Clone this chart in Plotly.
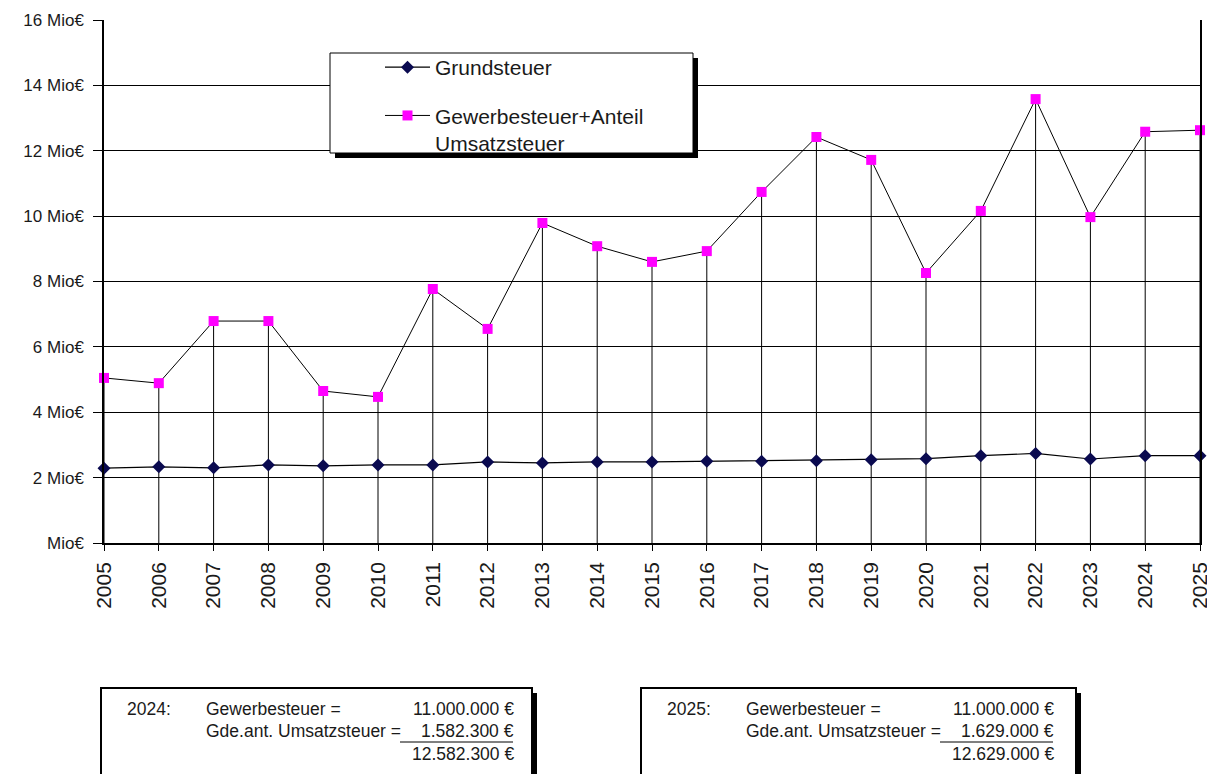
import plotly.graph_objects as go

years = list(range(2005, 2026))
grundsteuer = [2.29, 2.33, 2.30, 2.39, 2.36, 2.39, 2.39, 2.48, 2.45, 2.48, 2.48,
               2.50, 2.50, 2.52, 2.55, 2.58, 2.67, 2.74, 2.57, 2.67, 2.67]
gewerbe_ust = [5.05, 4.89, 6.79, 6.79, 4.65, 4.47, 7.77, 6.55, 9.79, 9.08, 8.60,
               8.93, 10.74, 12.42, 11.72, 8.26, 10.16, 13.58, 9.97, 12.5823, 12.629]
y_ticks = [0, 2, 4, 6, 8, 10, 12, 14, 16]
y_tick_labels = ["Mio€", "2 Mio€", "4 Mio€", "6 Mio€", "8 Mio€", "10 Mio€", "12 Mio€", "14 Mio€", "16 Mio€"]
legend_names = ["Grundsteuer", "Gewerbesteuer+Anteil<br>Umsatzsteuer"]
box_years = ["2024:", "2025:"]
box_gewerbe = ["11.000.000 €", "11.000.000 €"]
box_ust = ["1.582.300 €", "1.629.000 €"]
box_total = ["12.582.300 €", "12.629.000 €"]

# the page body has an 8px margin, so the figure starts at (8, 8) of the screenshot
OFF = 8
W, H = 1215 - OFF, 774 - OFF
L, R, T, B = 104, 1200, 20, 543   # plot-area edges in screenshot pixels
FONT = "Liberation Sans, Arial, sans-serif"
TXT = "#1a1a1a"

def px(x):
    return (x - L) / (R - L)

def py(y):
    return (B - y) / (B - T)

# drop lines from each upper point down to the axis
drop_x, drop_y = [], []
for yr, v in zip(years, gewerbe_ust):
    drop_x += [yr, yr, None]
    drop_y += [0, v, None]

fig = go.Figure()
fig.add_trace(go.Scatter(x=drop_x, y=drop_y, mode="lines",
                         line=dict(color="black", width=1),
                         showlegend=False, hoverinfo="skip"))
fig.add_trace(go.Scatter(x=years, y=grundsteuer, mode="lines+markers",
                         name=legend_names[0], legendgroup="a",
                         line=dict(color="black", width=1.2),
                         marker=dict(symbol="diamond", size=10, color="#0a0a50"),
                         cliponaxis=False))
fig.add_trace(go.Scatter(x=years, y=gewerbe_ust, mode="lines+markers",
                         name=legend_names[1], legendgroup="b",
                         line=dict(color="black", width=1),
                         marker=dict(symbol="square", size=10, color="#ff00ff"),
                         cliponaxis=False))

shapes = []
annotations = []

# legend box with shadow
lx0, ly0, lx1, ly1 = 330, 53, 693, 153
shapes.append(dict(type="rect", xref="paper", yref="paper", layer="above",
                   x0=px(lx0 + 5), x1=px(lx1 + 5), y0=py(ly0 + 5), y1=py(ly1 + 5),
                   fillcolor="black", line=dict(width=0)))
shapes.append(dict(type="rect", xref="paper", yref="paper", layer="above",
                   x0=px(lx0), x1=px(lx1), y0=py(ly0), y1=py(ly1),
                   fillcolor="white", line=dict(color="black", width=1)))

# bottom info boxes
for i, bx in enumerate([101, 641]):
    bw = 431 if i == 0 else 435
    top, bot = 688, 780
    shapes.append(dict(type="rect", xref="paper", yref="paper", layer="above",
                       x0=px(bx + 5), x1=px(bx + bw + 5), y0=py(top + 5), y1=py(bot),
                       fillcolor="black", line=dict(width=0)))
    shapes.append(dict(type="rect", xref="paper", yref="paper", layer="above",
                       x0=px(bx), x1=px(bx + bw), y0=py(top), y1=py(bot),
                       fillcolor="white", line=dict(color="black", width=2)))
    rx = bx + 415
    shapes.append(dict(type="line", xref="paper", yref="paper", layer="above",
                       x0=px(bx + 299), x1=px(rx - 3), y0=py(742), y1=py(742),
                       line=dict(color="black", width=1)))

    def ann(text, x, y, anchor):
        annotations.append(dict(text=text, xref="paper", yref="paper",
                                x=px(x), y=py(y), xanchor=anchor, yanchor="middle",
                                showarrow=False,
                                font=dict(family=FONT, size=17.5, color=TXT)))
    ann(box_years[i], bx + 24, 709, "left")
    ann("Gewerbesteuer =", bx + 103, 709, "left")
    ann(box_gewerbe[i], rx, 709, "right")
    ann("Gde.ant. Umsatzsteuer =", bx + 103, 731, "left")
    ann(box_ust[i], rx, 731, "right")
    ann(box_total[i], rx, 754, "right")

fig.update_layout(
    width=W, height=H,
    margin=dict(l=L - OFF, r=(1215 - R), t=T - OFF, b=(774 - B)),
    paper_bgcolor="white", plot_bgcolor="white",
    font=dict(family=FONT, size=16, color=TXT),
    showlegend=True,
    legend=dict(x=px(380), y=py(47), xanchor="left", yanchor="top",
                bgcolor="rgba(0,0,0,0)", borderwidth=0,
                font=dict(family=FONT, size=21, color=TXT),
                tracegroupgap=18, valign="top", itemwidth=45),
    xaxis=dict(range=[2005, 2025], tickvals=years, ticktext=[str(y) for y in years],
               tickangle=-90, ticks="outside", ticklen=6, tickcolor="black",
               ticklabelstandoff=3,
               showgrid=False, zeroline=False, showline=True, linecolor="black",
               linewidth=1.5, automargin=False,
               tickfont=dict(family=FONT, size=21, color=TXT)),
    yaxis=dict(range=[0, 16], tickvals=y_ticks, ticktext=y_tick_labels,
               ticks="outside", ticklen=9, tickcolor="black",
               ticklabelstandoff=6,
               showgrid=True, gridcolor="black", gridwidth=1,
               zeroline=False, showline=True, linecolor="black", linewidth=1.5,
               mirror=True, automargin=False,
               tickfont=dict(family=FONT, size=17, color=TXT)),
    shapes=shapes, annotations=annotations,
)

fig.write_html("out.html")
